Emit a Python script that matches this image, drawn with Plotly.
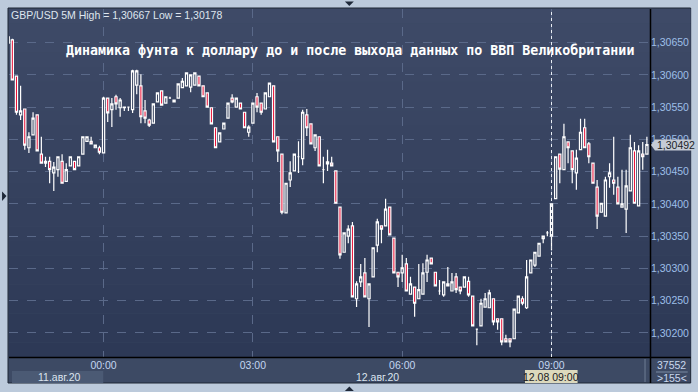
import pandas as pd
import plotly.graph_objects as go

# ---------------- data (GBP/USD, 5M candles) ----------------
start_time = "2020-08-11 22:05"
opens = [
 1.30649,1.30654,1.30598,1.30538,1.30547,1.30487,1.30507,1.30538,1.30477,1.30463,
 1.30466,1.30448,1.30453,1.30466,1.30435,1.30459,1.30466,1.30459,1.30477,1.30497,
 1.30497,1.30487,1.30487,1.30479,1.30564,1.30546,1.30566,1.30549,1.30549,1.30550,
 1.30546,1.30584,1.30583,1.30544,1.30530,1.30525,1.30558,1.30575,1.30556,1.30564,
 1.30558,1.30564,1.30580,1.30583,1.30581,1.30584,1.30598,1.30583,1.30572,1.30549,
 1.30518,1.30496,1.30516,1.30533,1.30564,1.30550,1.30556,1.30542,1.30511,1.30525,
 1.30566,1.30556,1.30547,1.30566,1.30583,1.30504,1.30477,1.30386,1.30437,1.30451,
 1.30473,1.30470,1.30538,1.30524,1.30487,1.30504,1.30453,1.30462,1.30463,1.30451,
 1.30395,1.30325,1.30350,1.30366,1.30253,1.30279,1.30293,1.30253,1.30287,1.30336,
 1.30366,1.30366,1.30395,1.30347,1.30294,1.30293,1.30307,1.30260,1.30271,1.30253,
 1.30260,1.30294,1.30316,1.30294,1.30265,1.30259,1.30276,1.30265,1.30287,1.30271,
 1.30271,1.30280,1.30257,1.30206,1.30211,1.30240,1.30239,1.30253,1.30222,1.30222,
 1.30191,1.30191,1.30191,1.30231,1.30253,1.30239,1.30293,1.30305,1.30319,1.30346,
 1.30355,1.30350,1.30408,1.30477,1.30453,1.30496,1.30482,1.30448,1.30484,1.30518,
 1.30493,1.30463,1.30426,1.30387,1.30381,1.30442,1.30437,1.30426,1.30395,1.30392,
 1.30420,1.30482,1.30397,1.30477,1.30477]
highs = [
 1.30667,1.30656,1.30598,1.30583,1.30547,1.30511,1.30542,1.30538,1.30504,1.30473,
 1.30473,1.30465,1.30473,1.30477,1.30463,1.30473,1.30466,1.30473,1.30504,1.30504,
 1.30504,1.30491,1.30490,1.30566,1.30564,1.30564,1.30569,1.30564,1.30550,1.30550,
 1.30608,1.30608,1.30601,1.30561,1.30532,1.30555,1.30572,1.30575,1.30566,1.30566,
 1.30561,1.30586,1.30595,1.30603,1.30600,1.30603,1.30598,1.30583,1.30572,1.30549,
 1.30518,1.30510,1.30525,1.30556,1.30570,1.30564,1.30556,1.30542,1.30522,1.30556,
 1.30572,1.30556,1.30572,1.30587,1.30583,1.30504,1.30477,1.30432,1.30466,1.30477,
 1.30497,1.30546,1.30547,1.30524,1.30507,1.30504,1.30473,1.30484,1.30473,1.30451,
 1.30395,1.30355,1.30367,1.30372,1.30280,1.30307,1.30316,1.30276,1.30332,1.30377,
 1.30366,1.30408,1.30395,1.30347,1.30294,1.30321,1.30316,1.30287,1.30271,1.30307,
 1.30308,1.30321,1.30316,1.30294,1.30282,1.30279,1.30302,1.30293,1.30293,1.30271,
 1.30287,1.30287,1.30257,1.30206,1.30253,1.30262,1.30267,1.30253,1.30222,1.30222,
 1.30197,1.30191,1.30237,1.30257,1.30257,1.30313,1.30313,1.30325,1.30339,1.30350,
 1.30358,1.30400,1.30473,1.30477,1.30524,1.30496,1.30482,1.30484,1.30532,1.30532,
 1.30496,1.30463,1.30437,1.30401,1.30442,1.30463,1.30504,1.30442,1.30453,1.30453,
 1.30507,1.30496,1.30491,1.30496,1.30504]
lows = [
 1.30649,1.30592,1.30538,1.30530,1.30484,1.30479,1.30507,1.30482,1.30463,1.30457,
 1.30432,1.30420,1.30442,1.30432,1.30435,1.30459,1.30453,1.30459,1.30477,1.30497,
 1.30493,1.30487,1.30477,1.30479,1.30527,1.30519,1.30546,1.30535,1.30544,1.30544,
 1.30541,1.30570,1.30525,1.30525,1.30519,1.30525,1.30558,1.30553,1.30556,1.30564,
 1.30558,1.30564,1.30580,1.30583,1.30573,1.30584,1.30583,1.30566,1.30550,1.30524,
 1.30487,1.30496,1.30516,1.30533,1.30556,1.30550,1.30547,1.30518,1.30504,1.30525,
 1.30542,1.30538,1.30547,1.30566,1.30496,1.30465,1.30384,1.30386,1.30426,1.30451,
 1.30448,1.30460,1.30505,1.30493,1.30482,1.30459,1.30432,1.30451,1.30459,1.30401,
 1.30315,1.30325,1.30339,1.30256,1.30240,1.30271,1.30256,1.30209,1.30287,1.30325,
 1.30339,1.30366,1.30352,1.30293,1.30271,1.30279,1.30265,1.30260,1.30225,1.30253,
 1.30260,1.30279,1.30307,1.30273,1.30259,1.30256,1.30273,1.30265,1.30262,1.30260,
 1.30271,1.30256,1.30211,1.30181,1.30211,1.30240,1.30239,1.30212,1.30205,1.30181,
 1.30186,1.30178,1.30191,1.30231,1.30243,1.30237,1.30293,1.30302,1.30319,1.30339,
 1.30350,1.30328,1.30408,1.30432,1.30453,1.30463,1.30432,1.30422,1.30484,1.30487,
 1.30463,1.30432,1.30361,1.30387,1.30381,1.30425,1.30414,1.30400,1.30395,1.30355,
 1.30420,1.30401,1.30397,1.30453,1.30477]
closes = [
 1.30659,1.30592,1.30542,1.30544,1.30491,1.30504,1.30533,1.30482,1.30463,1.30466,
 1.30453,1.30457,1.30473,1.30432,1.30453,1.30473,1.30453,1.30473,1.30504,1.30504,
 1.30493,1.30491,1.30480,1.30564,1.30541,1.30555,1.30555,1.30561,1.30550,1.30550,
 1.30606,1.30606,1.30535,1.30533,1.30522,1.30555,1.30572,1.30553,1.30566,1.30564,
 1.30561,1.30586,1.30590,1.30603,1.30600,1.30603,1.30583,1.30566,1.30550,1.30524,
 1.30487,1.30510,1.30525,1.30556,1.30558,1.30564,1.30547,1.30518,1.30519,1.30556,
 1.30550,1.30542,1.30572,1.30587,1.30496,1.30482,1.30387,1.30432,1.30448,1.30477,
 1.30473,1.30542,1.30518,1.30493,1.30507,1.30459,1.30453,1.30465,1.30459,1.30401,
 1.30321,1.30355,1.30361,1.30256,1.30276,1.30287,1.30256,1.30276,1.30332,1.30372,
 1.30361,1.30392,1.30352,1.30293,1.30287,1.30301,1.30265,1.30276,1.30246,1.30267,
 1.30293,1.30313,1.30307,1.30273,1.30265,1.30279,1.30273,1.30279,1.30267,1.30265,
 1.30287,1.30259,1.30211,1.30206,1.30246,1.30253,1.30262,1.30217,1.30217,1.30186,
 1.30186,1.30186,1.30237,1.30257,1.30246,1.30287,1.30313,1.30325,1.30339,1.30350,
 1.30355,1.30400,1.30473,1.30454,1.30504,1.30487,1.30453,1.30471,1.30511,1.30487,
 1.30473,1.30432,1.30381,1.30401,1.30437,1.30448,1.30432,1.30400,1.30400,1.30428,
 1.30487,1.30401,1.30482,1.30473,1.30492]

price_ticks = [1.30200, 1.30250, 1.30300, 1.30350, 1.30400, 1.30450, 1.30500, 1.30550, 1.30600, 1.30650]
price_labels = ["1,30200", "1,30250", "1,30300", "1,30350", "1,30400", "1,30450", "1,30500", "1,30550", "1,30600", "1,30650"]
time_ticks = ["2020-08-12 00:00", "2020-08-12 03:00", "2020-08-12 06:00", "2020-08-12 09:00"]
time_labels = ["00:00", "03:00", "06:00", "09:00"]
title_text = "Динамика фунта к доллару до и после выхода данных по ВВП Великобритании"
info_text = "GBP/USD 5M High = 1,30667 Low = 1,30178"
last_price = 1.30492
last_label = "1,30492"

times = pd.date_range(start_time, periods=len(opens), freq="5min")

# ---------------- geometry helpers (pixels -> paper) ----------------
W, H = 698, 392
L, R, T, B = 9, 655, 9, 357
def px(x):
    return (x - L) / (R - L)
def py(y):
    return (B - y) / (B - T)

fig = go.Figure()
fig.add_trace(go.Candlestick(
    x=times, open=opens, high=highs, low=lows, close=closes,
    increasing=dict(line=dict(color="#ffffff", width=1.2), fillcolor="#37435f"),
    decreasing=dict(line=dict(color="#ffffff", width=1.2), fillcolor="#e8062e"),
    whiskerwidth=0, showlegend=False, hoverinfo="skip",
))

shapes = []
# inner dark panel (axes panels) with dark border
shapes.append(dict(type="rect", xref="paper", yref="paper", x0=px(8), x1=px(696), y0=py(383), y1=py(8),
                   fillcolor="#3d4a64", line=dict(color="#1f2634", width=1), layer="below"))
# gradient background of plot + price panel
n = 24
top_c = (62, 74, 103)
bot_c = (45, 57, 86)
for i in range(n):
    f = i / (n - 1)
    c = tuple(int(round(top_c[k] + (bot_c[k] - top_c[k]) * f)) for k in range(3))
    y0 = 9 + (357 - 9) * i / n
    y1 = 9 + (357 - 9) * (i + 1) / n
    shapes.append(dict(type="rect", xref="paper", yref="paper", x0=px(9), x1=px(696),
                       y0=py(y1), y1=py(y0), fillcolor="rgb(%d,%d,%d)" % c,
                       line=dict(width=0), layer="below"))
# date box left
shapes.append(dict(type="rect", xref="paper", yref="paper", x0=px(12), x1=px(104), y0=py(383), y1=py(371),
                   fillcolor="#4b5a74", line=dict(width=0), layer="below"))
# cursor date box
shapes.append(dict(type="rect", xref="paper", yref="paper", x0=px(529), x1=px(582), y0=py(383), y1=py(370),
                   fillcolor="#dcd9bd", line=dict(width=0), layer="above"))
# scrollbar-like bar
shapes.append(dict(type="rect", xref="paper", yref="paper", x0=px(649), x1=px(651), y0=py(382), y1=py(359),
                   fillcolor="#56647c", line=dict(width=0), layer="above"))
# black axis lines
shapes.append(dict(type="line", xref="paper", yref="paper", x0=px(9), x1=px(696), y0=py(357.5), y1=py(357.5),
                   line=dict(color="#000000", width=1.5), layer="above"))
shapes.append(dict(type="line", xref="paper", yref="paper", x0=px(655.5), x1=px(655.5), y0=py(383), y1=py(9),
                   line=dict(color="#000000", width=1.5), layer="above"))
# separator in bottom-right panel
shapes.append(dict(type="line", xref="paper", yref="paper", x0=px(661), x1=px(693), y0=py(372), y1=py(372),
                   line=dict(color="#7b8aa3", width=1), layer="above"))
# cursor vertical dotted line at 09:00
shapes.append(dict(type="line", xref="x", yref="paper", x0="2020-08-12 09:00", x1="2020-08-12 09:00",
                   y0=0, y1=py(9), line=dict(color="#e8ecf2", width=1, dash="dot"), layer="above"))
# last-price arrow box
shapes.append(dict(type="path", xref="paper", yref="paper",
                   path="M %f %f L %f %f L %f %f L %f %f L %f %f Z" % (px(656), py(145), px(660), py(139.5), px(698), py(139.5), px(698), py(150.5), px(660), py(150.5)),
                   fillcolor="#c5cbd6", line=dict(width=0), layer="above"))
# frame triangles
shapes.append(dict(type="path", xref="paper", yref="paper",
                   path="M %f %f L %f %f L %f %f Z" % (px(347.5), py(1.5), px(356.5), py(1.5), px(352), py(6)),
                   fillcolor="#1e2838", line=dict(width=0), layer="above"))
shapes.append(dict(type="path", xref="paper", yref="paper",
                   path="M %f %f L %f %f L %f %f Z" % (px(347.5), py(391), px(356.5), py(391), px(352), py(386.5)),
                   fillcolor="#1e2838", line=dict(width=0), layer="above"))
shapes.append(dict(type="path", xref="paper", yref="paper",
                   path="M %f %f L %f %f L %f %f Z" % (px(2), py(191.5), px(2), py(201), px(6.5), py(196)),
                   fillcolor="#1e2838", line=dict(width=0), layer="above"))

ann = []
ann.append(dict(text="<b>" + title_text + "</b>", xref="paper", yref="paper", x=px(353), y=py(50), xanchor="center", yanchor="middle",
                showarrow=False, font=dict(family="DejaVu Sans Mono", size=13.3, color="#ffffff")))
ann.append(dict(text=info_text, xref="paper", yref="paper", x=px(9), y=py(15), xanchor="left", yanchor="middle",
                showarrow=False, font=dict(family="Liberation Sans", size=10.5, color="#dfe6ef")))
ann.append(dict(text="11.авг.20", xref="paper", yref="paper", x=px(60), y=py(377), xanchor="center", yanchor="middle",
                showarrow=False, font=dict(family="Liberation Sans", size=10.5, color="#dbe4ef")))
ann.append(dict(text="12.авг.20", xref="paper", yref="paper", x=px(380), y=py(377), xanchor="center", yanchor="middle",
                showarrow=False, font=dict(family="Liberation Sans", size=10.5, color="#dbe4ef")))
ann.append(dict(text="12.08 09:00", xref="paper", yref="paper", x=px(555.5), y=py(377), xanchor="center", yanchor="middle",
                showarrow=False, font=dict(family="Liberation Sans", size=10.5, color="#1b1b22")))
ann.append(dict(text="37552", xref="paper", yref="paper", x=px(677), y=py(365), xanchor="center", yanchor="middle",
                showarrow=False, font=dict(family="Liberation Sans", size=10.5, color="#c9d8ee")))
ann.append(dict(text=">155<", xref="paper", yref="paper", x=px(677), y=py(378.5), xanchor="center", yanchor="middle",
                showarrow=False, font=dict(family="Liberation Sans", size=10.5, color="#c9d8ee")))
ann.append(dict(text=last_label, xref="paper", yref="y", x=px(660), y=last_price, xanchor="left", yanchor="middle",
                showarrow=False, font=dict(family="Liberation Sans", size=10.5, color="#1b1e28")))

fig.update_layout(
    width=W, height=H,
    margin=dict(l=L, r=W - R, t=T, b=H - B, pad=0),
    paper_bgcolor="#bccadb",
    plot_bgcolor="rgba(0,0,0,0)",
    boxgap=0.25,
    shapes=shapes, annotations=ann,
    showlegend=False,
    xaxis=dict(type="date", range=["2020-08-11 22:06:00", "2020-08-12 10:58:45"],
               rangeslider=dict(visible=False),
               tickvals=time_ticks, ticktext=time_labels, ticks="", showline=False, zeroline=False,
               showgrid=True, gridcolor="#5a6989", griddash="dash", gridwidth=1,
               tickfont=dict(family="Liberation Sans", size=10.5, color="#c3d6f0"), fixedrange=True),
    yaxis=dict(side="right", range=[1.301627, 1.307020], tickvals=price_ticks, ticktext=price_labels,
               ticks="", showline=False, zeroline=False,
               showgrid=True, gridcolor="#5a6989", griddash="dash", gridwidth=1,
               tickfont=dict(family="Liberation Sans", size=10.5, color="#9dbfe8"), fixedrange=True),
)

fig.write_html("out.html")
